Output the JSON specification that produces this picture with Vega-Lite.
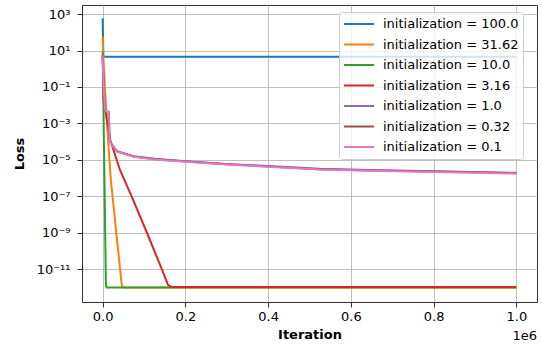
{
  "$schema": "https://vega.github.io/schema/vega-lite/v6.json",
  "width": 455,
  "height": 297,
  "autosize": {"type": "none"},
  "padding": {"left": 82, "top": 5, "right": 5, "bottom": 43},
  "background": "white",
  "config": {
    "font": "DejaVu Sans",
    "view": {"stroke": "#333", "strokeWidth": 1},
    "axis": {
      "labelFont": "DejaVu Sans", "labelFontSize": 13, "labelColor": "#000",
      "titleFont": "DejaVu Sans", "titleFontSize": 13, "titleFontWeight": "bold", "titleColor": "#000",
      "domainColor": "#333", "tickColor": "#333", "tickSize": 5,
      "gridColor": "#b0b0b0", "gridWidth": 0.8, "gridOpacity": 1
    }
  },
  "layer": [
    {
      "data": {"values": [
        {"series": "initialization = 100.0", "iter": 0, "loss": 590},
        {"series": "initialization = 100.0", "iter": 1500, "loss": 4.6},
        {"series": "initialization = 100.0", "iter": 1000000, "loss": 4.6},

        {"series": "initialization = 31.62", "iter": 0, "loss": 58},
        {"series": "initialization = 31.62", "iter": 3000, "loss": 1},
        {"series": "initialization = 31.62", "iter": 11300, "loss": 4.3e-4},
        {"series": "initialization = 31.62", "iter": 19760, "loss": 7.6e-7},
        {"series": "initialization = 31.62", "iter": 46000, "loss": 1.4e-12},
        {"series": "initialization = 31.62", "iter": 49000, "loss": 1.0e-12},
        {"series": "initialization = 31.62", "iter": 1000000, "loss": 1.0e-12},

        {"series": "initialization = 10.0", "iter": 0, "loss": 8.5},
        {"series": "initialization = 10.0", "iter": 7800, "loss": 1.3e-12},
        {"series": "initialization = 10.0", "iter": 9500, "loss": 1.0e-12},
        {"series": "initialization = 10.0", "iter": 1000000, "loss": 1.0e-12},

        {"series": "initialization = 3.16", "iter": 0, "loss": 5},
        {"series": "initialization = 3.16", "iter": 2400, "loss": 0.019},
        {"series": "initialization = 3.16", "iter": 18500, "loss": 1.2e-4},
        {"series": "initialization = 3.16", "iter": 42000, "loss": 2.7e-6},
        {"series": "initialization = 3.16", "iter": 70000, "loss": 1.0e-7},
        {"series": "initialization = 3.16", "iter": 107000, "loss": 1.0e-9},
        {"series": "initialization = 3.16", "iter": 143000, "loss": 1.0e-11},
        {"series": "initialization = 3.16", "iter": 152000, "loss": 3.0e-12},
        {"series": "initialization = 3.16", "iter": 158000, "loss": 1.4e-12},
        {"series": "initialization = 3.16", "iter": 166000, "loss": 1.05e-12},
        {"series": "initialization = 3.16", "iter": 1000000, "loss": 1.05e-12},

        {"series": "initialization = 1.0", "iter": 0, "loss": 5.9},
        {"series": "initialization = 1.0", "iter": 2000, "loss": 0.17},
        {"series": "initialization = 1.0", "iter": 5500, "loss": 0.0066},
        {"series": "initialization = 1.0", "iter": 9000, "loss": 0.0047},
        {"series": "initialization = 1.0", "iter": 14500, "loss": 0.0042},
        {"series": "initialization = 1.0", "iter": 15500, "loss": 0.0011},
        {"series": "initialization = 1.0", "iter": 16500, "loss": 1.4e-4},
        {"series": "initialization = 1.0", "iter": 20000, "loss": 7.8e-5},
        {"series": "initialization = 1.0", "iter": 34700, "loss": 3.0e-5},
        {"series": "initialization = 1.0", "iter": 74700, "loss": 1.58e-5},
        {"series": "initialization = 1.0", "iter": 130000, "loss": 1.12e-5},
        {"series": "initialization = 1.0", "iter": 201700, "loss": 8.5e-6},
        {"series": "initialization = 1.0", "iter": 300000, "loss": 6.0e-6},
        {"series": "initialization = 1.0", "iter": 400000, "loss": 4.6e-6},
        {"series": "initialization = 1.0", "iter": 524600, "loss": 3.25e-6},
        {"series": "initialization = 1.0", "iter": 650000, "loss": 2.75e-6},
        {"series": "initialization = 1.0", "iter": 801700, "loss": 2.4e-6},
        {"series": "initialization = 1.0", "iter": 1000000, "loss": 1.95e-6},

        {"series": "initialization = 0.32", "iter": 0, "loss": 5.7},
        {"series": "initialization = 0.32", "iter": 2000, "loss": 0.165},
        {"series": "initialization = 0.32", "iter": 5500, "loss": 0.0064},
        {"series": "initialization = 0.32", "iter": 9000, "loss": 0.0046},
        {"series": "initialization = 0.32", "iter": 14500, "loss": 0.0041},
        {"series": "initialization = 0.32", "iter": 15500, "loss": 0.00105},
        {"series": "initialization = 0.32", "iter": 16500, "loss": 1.35e-4},
        {"series": "initialization = 0.32", "iter": 20000, "loss": 7.6e-5},
        {"series": "initialization = 0.32", "iter": 34700, "loss": 2.9e-5},
        {"series": "initialization = 0.32", "iter": 74700, "loss": 1.52e-5},
        {"series": "initialization = 0.32", "iter": 130000, "loss": 1.07e-5},
        {"series": "initialization = 0.32", "iter": 201700, "loss": 8.1e-6},
        {"series": "initialization = 0.32", "iter": 300000, "loss": 5.7e-6},
        {"series": "initialization = 0.32", "iter": 400000, "loss": 4.35e-6},
        {"series": "initialization = 0.32", "iter": 524600, "loss": 3.1e-6},
        {"series": "initialization = 0.32", "iter": 650000, "loss": 2.62e-6},
        {"series": "initialization = 0.32", "iter": 801700, "loss": 2.28e-6},
        {"series": "initialization = 0.32", "iter": 1000000, "loss": 1.85e-6},

        {"series": "initialization = 0.1", "iter": 0, "loss": 5.6},
        {"series": "initialization = 0.1", "iter": 2000, "loss": 0.16},
        {"series": "initialization = 0.1", "iter": 5500, "loss": 0.0062},
        {"series": "initialization = 0.1", "iter": 9000, "loss": 0.0045},
        {"series": "initialization = 0.1", "iter": 14500, "loss": 0.004},
        {"series": "initialization = 0.1", "iter": 15500, "loss": 0.001},
        {"series": "initialization = 0.1", "iter": 16500, "loss": 1.3e-4},
        {"series": "initialization = 0.1", "iter": 20000, "loss": 7.4e-5},
        {"series": "initialization = 0.1", "iter": 34700, "loss": 2.8e-5},
        {"series": "initialization = 0.1", "iter": 74700, "loss": 1.47e-5},
        {"series": "initialization = 0.1", "iter": 130000, "loss": 1.03e-5},
        {"series": "initialization = 0.1", "iter": 201700, "loss": 7.8e-6},
        {"series": "initialization = 0.1", "iter": 300000, "loss": 5.5e-6},
        {"series": "initialization = 0.1", "iter": 400000, "loss": 4.2e-6},
        {"series": "initialization = 0.1", "iter": 524600, "loss": 2.95e-6},
        {"series": "initialization = 0.1", "iter": 650000, "loss": 2.5e-6},
        {"series": "initialization = 0.1", "iter": 801700, "loss": 2.18e-6},
        {"series": "initialization = 0.1", "iter": 1000000, "loss": 1.78e-6}
      ]},
      "mark": {"type": "line", "strokeWidth": 2, "clip": true},
      "encoding": {
        "x": {
          "field": "iter", "type": "quantitative",
          "scale": {"domain": [-50000, 1050000], "nice": false, "zero": false},
          "axis": {
            "values": [0, 200000, 400000, 600000, 800000, 1000000],
            "labelExpr": "format(datum.value / 1000000, '.1f')",
            "labelPadding": 3, "title": "Iteration", "titlePadding": 5, "grid": true
          }
        },
        "y": {
          "field": "loss", "type": "quantitative",
          "scale": {"type": "log", "domain": [1.585e-13, 3162.3], "nice": false},
          "axis": {
            "values": [1000, 10, 0.1, 0.001, 1e-5, 1e-7, 1e-9, 1e-11],
            "labelExpr": "datum.value >= 100 ? '10³' : datum.value >= 1 ? '10¹' : datum.value >= 0.01 ? '10⁻¹' : datum.value >= 0.0001 ? '10⁻³' : datum.value >= 0.000001 ? '10⁻⁵' : datum.value >= 0.00000001 ? '10⁻⁷' : datum.value >= 0.0000000001 ? '10⁻⁹' : '10⁻¹¹'",
            "labelPadding": 7, "title": "Loss", "titlePadding": 10, "grid": true
          }
        },
        "color": {
          "field": "series", "type": "nominal",
          "scale": {
            "domain": ["initialization = 100.0", "initialization = 31.62", "initialization = 10.0", "initialization = 3.16", "initialization = 1.0", "initialization = 0.32", "initialization = 0.1"],
            "range": ["#1f77b4", "#ff7f0e", "#2ca02c", "#d62728", "#9467bd", "#8c564b", "#e377c2"]
          },
          "legend": {
            "title": null, "orient": "none", "legendX": 257, "legendY": 7,
            "symbolType": "stroke", "symbolSize": 900, "symbolStrokeWidth": 2,
            "clipHeight": 16, "rowPadding": 4.5, "labelOffset": 8,
            "labelFont": "DejaVu Sans", "labelFontSize": 13, "labelColor": "#000",
            "padding": 4, "fillColor": "rgba(255,255,255,0.8)", "strokeColor": "#cccccc", "cornerRadius": 3
          }
        }
      }
    },
    {
      "data": {"values": [{"label": "1e6"}]},
      "mark": {"type": "text", "align": "right", "baseline": "middle", "dy": 34, "fontSize": 13, "font": "DejaVu Sans", "color": "#000"},
      "encoding": {
        "x": {"datum": 1050000, "type": "quantitative"},
        "y": {"datum": 1.585e-13, "type": "quantitative"},
        "text": {"field": "label"}
      }
    }
  ]
}
